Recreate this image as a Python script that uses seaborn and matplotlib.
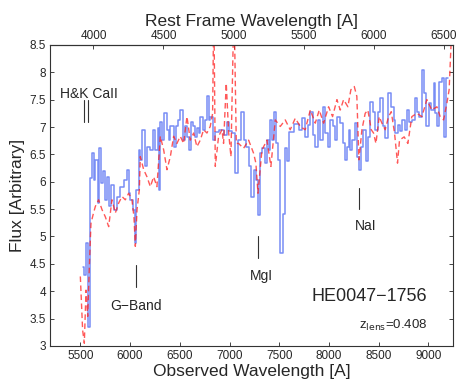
import numpy as np
import pandas as pd
import matplotlib
matplotlib.use("Agg")
import matplotlib.pyplot as plt
import seaborn as sns

# ---- data ----
z_lens = 0.408

blue_wl = [5523, 5540, 5560, 5577, 5600, 5617, 5634, 5651, 5674, 5691, 5704, 5724,
           5745, 5768, 5785, 5812, 5835, 5868, 5902, 5935, 5969, 5986, 6002, 6026,
           6046, 6063, 6086, 6103, 6120, 6153, 6170, 6203, 6230, 6253, 6280, 6290,
           6297, 6321, 6344, 6371, 6388, 6404, 6438, 6461, 6482, 6505, 6528, 6548,
           6572, 6589, 6612, 6632, 6656, 6672, 6689, 6706, 6729, 6756, 6773, 6790,
           6806, 6830, 6850, 6890, 6940, 6974, 6991, 7024, 7058, 7085, 7118, 7141,
           7165, 7192, 7219, 7242, 7265, 7286, 7306, 7326, 7353, 7376, 7393, 7410,
           7426, 7443, 7466, 7487, 7510, 7533, 7554, 7577, 7594, 7650, 7700, 7728,
           7761, 7788, 7812, 7835, 7862, 7889, 7912, 7935, 7962, 7989, 8012, 8036,
           8056, 8080, 8113, 8136, 8157, 8180, 8197, 8214, 8230, 8257, 8280, 8304,
           8324, 8347, 8371, 8391, 8415, 8438, 8465, 8492, 8515, 8542, 8565, 8592,
           8626, 8649, 8666, 8693, 8716, 8739, 8760, 8783, 8806, 8833, 8860, 8884,
           8907, 8934, 8951, 8974, 9001, 9028, 9051, 9068, 9091, 9111, 9135, 9155,
           9175, 9195]
blue_flux = [4.45, 4.30, 4.88, 3.35, 6.07, 6.52, 6.03, 6.40, 5.61, 6.61, 5.97, 6.19,
             5.67, 6.09, 5.55, 5.94, 5.49, 5.73, 5.91, 6.03, 6.22, 5.79, 5.67, 5.49,
             4.88, 5.85, 6.58, 6.40, 6.95, 6.28, 6.64, 6.58, 6.95, 6.58, 6.98, 5.85,
             7.10, 6.76, 7.25, 6.95, 6.76, 7.01, 6.64, 7.01, 7.13, 7.31, 6.76, 7.01,
             6.82, 6.58, 7.10, 7.01, 6.82, 6.98, 6.89, 7.19, 6.95, 7.13, 7.56, 7.13,
             7.19, 6.76, 6.90, 6.95, 6.86, 7.10, 6.92, 6.89, 6.16, 6.76, 7.28, 6.76,
             6.64, 6.28, 5.73, 6.22, 6.03, 5.40, 6.52, 6.61, 6.34, 6.76, 6.58, 7.13,
             6.76, 7.28, 6.70, 6.40, 4.70, 5.42, 6.61, 6.37, 6.90, 7.05, 6.95, 7.16,
             6.82, 7.04, 7.28, 6.86, 6.64, 7.13, 6.76, 7.37, 6.89, 6.64, 7.13, 7.01,
             6.76, 7.19, 7.07, 6.70, 6.40, 6.64, 6.95, 6.58, 6.76, 7.07, 6.46, 6.22,
             6.64, 6.95, 6.37, 6.82, 7.46, 7.28, 6.95, 7.28, 7.53, 7.01, 6.80, 7.62,
             7.37, 7.13, 6.89, 7.04, 6.92, 7.13, 6.95, 7.31, 7.10, 7.13, 7.53, 7.28,
             7.19, 8.04, 7.62, 7.01, 7.43, 7.31, 7.80, 7.25, 7.01, 7.83, 7.89, 6.82,
             7.89, 7.89]

red_wl = [5500, 5523, 5540, 5557, 5574, 5594, 5607, 5627, 5651, 5684, 5718, 5751,
          5785, 5818, 5852, 5885, 5919, 5952, 5986, 6019, 6039, 6053, 6070, 6093,
          6103, 6137, 6170, 6204, 6237, 6270, 6304, 6338, 6371, 6405, 6438, 6471,
          6505, 6538, 6572, 6605, 6639, 6672, 6706, 6739, 6773, 6806, 6830, 6842,
          6857, 6890, 6924, 6940, 6967, 6991, 7014, 7045, 7068, 7091, 7141, 7192,
          7242, 7265, 7286, 7326, 7376, 7416, 7460, 7510, 7560, 7610, 7661, 7711,
          7761, 7812, 7862, 7902, 7946, 7996, 8036, 8080, 8113, 8147, 8190, 8220,
          8254, 8280, 8301, 8331, 8364, 8391, 8425, 8448, 8472, 8505, 8532, 8565,
          8599, 8626, 8659, 8689, 8709, 8756, 8793, 8833, 8884, 8934, 8984, 9034,
          9085, 9118, 9152, 9185, 9208, 9229, 9250]
red_flux = [4.27, 3.29, 3.05, 4.02, 3.54, 4.63, 5.24, 5.39, 5.55, 5.67, 5.49, 5.36,
            5.18, 5.67, 5.43, 5.61, 5.73, 5.67, 5.79, 5.67, 5.36, 4.82, 5.49, 5.85,
            6.46, 6.22, 6.09, 5.91, 6.09, 5.91, 6.83, 6.58, 6.22, 6.46, 6.83, 6.70,
            6.83, 6.70, 7.19, 6.76, 6.89, 6.64, 6.76, 6.95, 6.89, 7.01, 7.25, 9.30,
            6.28, 6.83, 6.95, 6.70, 7.80, 6.90, 6.46, 9.30, 6.70, 6.70, 6.61, 6.76,
            6.52, 6.34, 5.79, 6.58, 6.76, 6.28, 7.13, 7.01, 7.13, 6.95, 7.16, 7.01,
            6.95, 7.31, 7.07, 7.31, 7.07, 7.37, 7.19, 7.50, 7.31, 7.50, 7.37, 7.68,
            7.74, 7.56, 6.40, 6.95, 7.25, 7.31, 6.95, 6.89, 6.70, 7.19, 7.07, 6.95,
            7.19, 7.28, 6.89, 6.34, 6.76, 6.82, 6.70, 7.19, 7.25, 7.19, 7.50, 7.31,
            7.37, 7.19, 7.13, 7.43, 7.68, 8.59, 9.50]

# spectral features: (label, rest wavelengths, line y-range, label position)
feature_labels = ["H&K CaII", "G\u2212Band", "MgI", "NaI"]
feature_rest = [[3929, 3964], [4304], [5175], [5893]]
feature_ymin = [7.10, 4.08, 4.61, 5.50]
feature_ymax = [7.50, 4.48, 5.00, 5.89]
label_x = [5300, 6060, 7316, 8364]
label_y = [7.60, 3.73, 4.28, 5.19]
label_ha = ["left", "center", "center", "center"]

x_ticks = [5500, 6000, 6500, 7000, 7500, 8000, 8500, 9000]
rest_ticks = [4000, 4500, 5000, 5500, 6000, 6500]
y_ticks = [3, 3.5, 4, 4.5, 5, 5.5, 6, 6.5, 7, 7.5, 8, 8.5]

# ---- plot ----
sns.set_style("ticks")
plt.rcParams["font.family"] = ["Liberation Sans", "DejaVu Sans"]

fig = plt.figure(figsize=(4.63, 3.87), dpi=100)
ax = fig.add_axes([0.108, 0.106, 0.870, 0.778])

blue_df = pd.DataFrame({"wl": blue_wl, "flux": blue_flux})
red_df = pd.DataFrame({"wl": red_wl, "flux": red_flux})

sns.lineplot(data=blue_df, x="wl", y="flux", ax=ax, estimator=None, sort=False,
             drawstyle="steps-post", color="#3050f0", alpha=0.65, lw=1.1)
sns.lineplot(data=red_df, x="wl", y="flux", ax=ax, estimator=None, sort=False,
             color="#ff2020", alpha=0.75, lw=1.0)
ax.lines[-1].set_linestyle((0, (4, 2.5)))

for lab, rest, y0, y1, lx, ly, ha in zip(feature_labels, feature_rest, feature_ymin,
                                         feature_ymax, label_x, label_y, label_ha):
    for r in rest:
        ax.plot([r * (1 + z_lens)] * 2, [y0, y1], color="#333333", lw=0.8)
    ax.text(lx, ly, lab, ha=ha, va="center", fontsize=10)

ax.text(8987, 3.90, "HE0047\u22121756", ha="right", va="center", fontsize=13)
ax.text(8987, 3.38, "z$_{\\rm lens}$=0.408", ha="right", va="center", fontsize=9.5)

ax.set_xlim(5195, 9245)
ax.set_ylim(3, 8.5)
ax.set_xticks(x_ticks)
ax.set_yticks(y_ticks)
ax.set_yticklabels([f"{v:g}" for v in y_ticks])
ax.set_xlabel("Observed Wavelength [A]", fontsize=12.5, labelpad=1)
ax.set_ylabel("Flux [Arbitrary]", fontsize=12.5, labelpad=3)
ax.tick_params(direction="in", length=3, labelsize=8.5, width=0.6, right=True, pad=3)
for s in ax.spines.values():
    s.set_linewidth(0.8)
    s.set_color("#333333")

sec = ax.secondary_xaxis("top", functions=(lambda x: x / (1 + z_lens),
                                           lambda x: x * (1 + z_lens)))
sec.set_xticks(rest_ticks)
sec.tick_params(direction="in", length=3, labelsize=8.5, width=0.6, pad=2)
sec.set_xlabel("Rest Frame Wavelength [A]", fontsize=12.5, labelpad=3)

fig.savefig("out.png", dpi=100)
